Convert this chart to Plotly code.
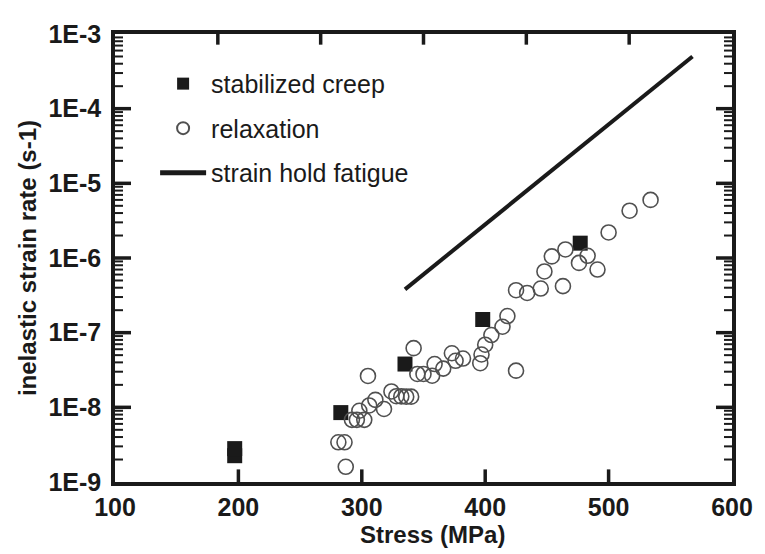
import math
import plotly.graph_objects as go

# ---- data ----
creep_x = [197, 197, 283, 335, 398, 477]
creep_y = [2.25e-9, 2.8e-9, 8.5e-9, 3.8e-8, 1.5e-7, 1.58e-6]

relax_x = [287, 281, 286, 292, 296, 302, 298, 306, 318, 311, 324, 305, 328, 332,
           336, 340, 342, 345, 350, 357, 359, 366, 373, 376, 382, 396, 397, 400,
           405, 414, 418, 425, 425, 434, 445, 463, 448, 454, 465, 476, 483, 491,
           500, 517, 534]
relax_y = [1.6e-9, 3.4e-9, 3.4e-9, 6.8e-9, 6.8e-9, 6.8e-9, 9.0e-9, 1.06e-8, 9.5e-9,
           1.26e-8, 1.63e-8, 2.63e-8, 1.41e-8, 1.4e-8, 1.39e-8, 1.39e-8, 6.2e-8,
           2.8e-8, 2.8e-8, 2.65e-8, 3.8e-8, 3.3e-8, 5.3e-8, 4.2e-8, 4.5e-8, 3.9e-8,
           5.1e-8, 6.9e-8, 9.3e-8, 1.2e-7, 1.67e-7, 3.1e-8, 3.7e-7, 3.4e-7, 3.9e-7,
           4.2e-7, 6.6e-7, 1.05e-6, 1.3e-6, 8.6e-7, 1.07e-6, 7.0e-7, 2.2e-6, 4.3e-6,
           6.0e-6]

fatigue_x = [335, 568]
fatigue_y = [3.8e-7, 5.0e-4]

x_ticks = [100, 200, 300, 400, 500, 600]
y_ticks = [1e-9, 1e-8, 1e-7, 1e-6, 1e-5, 1e-4, 1e-3]
y_labels = ["1E-9", "1E-8", "1E-7", "1E-6", "1E-5", "1E-4", "1E-3"]
top_divisions = 6          # the top frame edge carries 6 equal divisions
minor_y = [m * 10.0 ** e for e in range(-9, -3) for m in range(2, 10)]

X_RANGE = [100, 600]
LOG_RANGE = [-9, -3]

FONT = "Liberation Sans, Arial, Helvetica, sans-serif"
INK = "#1a1a1a"

# figure/plot-area size in pixels (tick lengths -> paper units)
W, H = 765, 554
ML, MR, MT, MB = 107, 41, 12, 80
PW, PH = W - ML - MR, H - MT - MB

fig = go.Figure()
fig.add_trace(go.Scatter(
    x=creep_x, y=creep_y, mode="markers", name="stabilized creep",
    legendgroup="a",
    marker=dict(symbol="square", size=15, color=INK, line=dict(width=0))))
fig.add_trace(go.Scatter(
    x=relax_x, y=relax_y, mode="markers", name="relaxation",
    legendgroup="b",
    marker=dict(symbol="circle-open", size=15, color="#505050",
                line=dict(width=1.6, color="#505050"))))
fig.add_trace(go.Scatter(
    x=fatigue_x, y=fatigue_y, mode="lines", name="strain hold fatigue",
    legendgroup="c", line=dict(color=INK, width=4)))

# ---- inside tick marks drawn as paper-referenced segments ----
def ypaper(v):
    return (math.log10(v) - LOG_RANGE[0]) / (LOG_RANGE[1] - LOG_RANGE[0])

def xpaper(v):
    return (v - X_RANGE[0]) / (X_RANGE[1] - X_RANGE[0])

shapes = []
def seg(x0, y0, x1, y1, w):
    shapes.append(dict(type="line", xref="paper", yref="paper",
                       x0=x0, y0=y0, x1=x1, y1=y1, layer="above",
                       line=dict(color=INK, width=w)))

for v in y_ticks[1:-1]:
    p = ypaper(v)
    seg(0, p, 16 / PW, p, 3.5)
    seg(1, p, 1 - 16 / PW, p, 3.5)
for v in minor_y:
    p = ypaper(v)
    seg(0, p, 8 / PW, p, 2)
    seg(1, p, 1 - 8 / PW, p, 2)
for v in x_ticks[1:-1]:
    p = xpaper(v)
    seg(p, 0, p, 13 / PH, 3.5)
for k in range(1, top_divisions):
    p = k / top_divisions
    seg(p, 1, p, 1 - 11 / PH, 3.5)

tickfont = dict(size=25, family=FONT, color=INK, weight="bold")

fig.update_layout(
    width=W, height=H,
    margin=dict(l=ML, r=MR, t=MT, b=MB),
    paper_bgcolor="white", plot_bgcolor="white",
    font=dict(family=FONT, color=INK),
    showlegend=True,
    legend=dict(x=0.065, y=0.94, xanchor="left", yanchor="top",
                font=dict(size=25, family=FONT, color=INK),
                bgcolor="rgba(0,0,0,0)", traceorder="grouped",
                tracegroupgap=9, itemwidth=46, itemsizing="constant"),
    xaxis=dict(
        range=X_RANGE, tickvals=x_ticks, ticktext=[str(v) for v in x_ticks],
        ticks="", showline=True, linewidth=3.5, linecolor=INK, mirror=True,
        showgrid=False, zeroline=False, ticklabeloverflow="allow",
        tickfont=tickfont, ticklabelstandoff=0),
    yaxis=dict(
        type="log", range=LOG_RANGE, tickvals=y_ticks, ticktext=y_labels,
        ticks="", showline=True, linewidth=3.5, linecolor=INK, mirror=True,
        showgrid=False, zeroline=False, ticklabeloverflow="allow",
        tickfont=tickfont, ticklabelstandoff=5,
        title=dict(text="<b>inelastic strain rate (s-1)</b>", standoff=6,
                   font=dict(size=24, family=FONT, color=INK))),
    shapes=shapes,
    annotations=[dict(
        text="<b>Stress (MPa)</b>", xref="paper", yref="paper",
        x=0.514, y=-0.118, xanchor="center", yanchor="middle",
        showarrow=False, font=dict(size=24, family=FONT, color=INK))],
)

fig.write_html("out.html")
